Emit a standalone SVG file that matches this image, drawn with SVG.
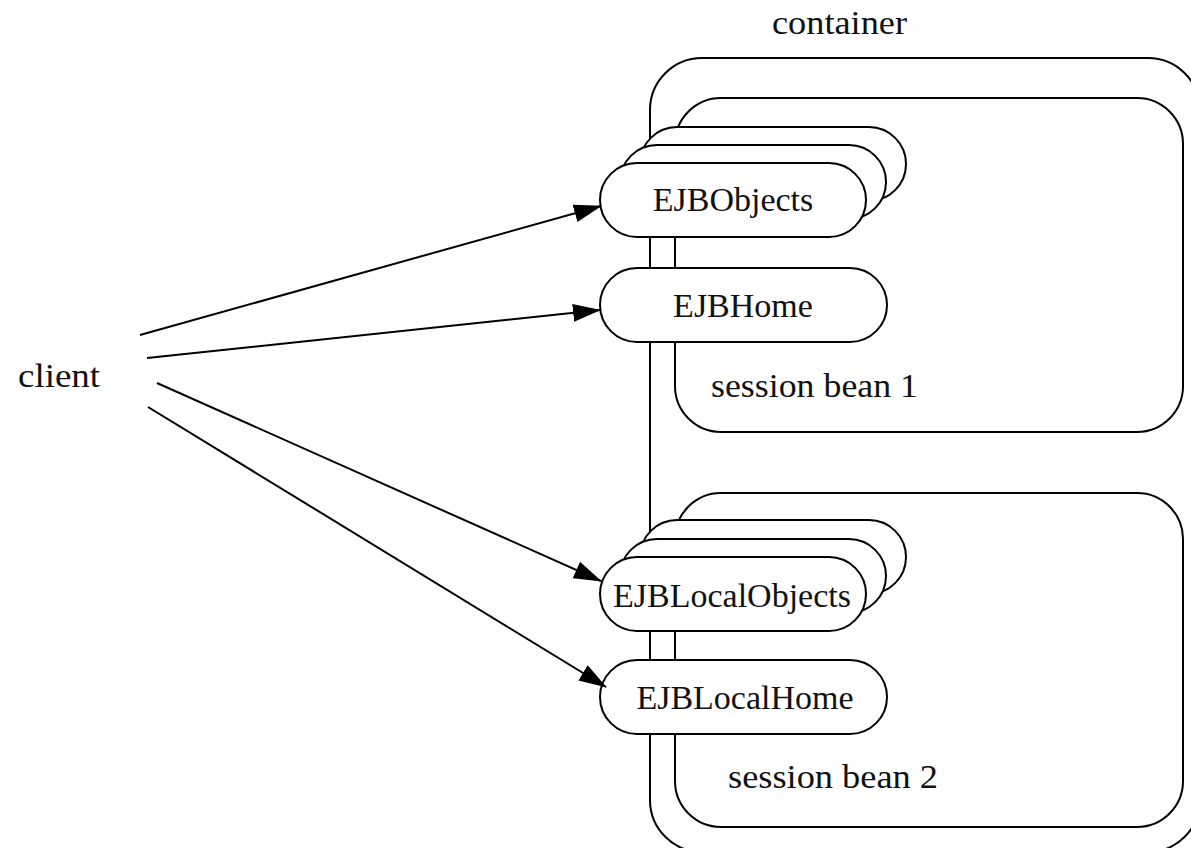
<svg xmlns="http://www.w3.org/2000/svg" width="1191" height="848" viewBox="0 0 1191 848">
<defs>
<marker id="arr" markerWidth="28" markerHeight="18" refX="27" refY="9" orient="auto" markerUnits="userSpaceOnUse">
<path d="M0,0 L28,9 L0,18 Z" fill="#000"/>
</marker>
</defs>
<style>
.box{fill:#fff;stroke:#000;stroke-width:2}
.t{font-family:"Liberation Serif","Times New Roman",serif;font-size:34px;fill:#111}
.c{text-anchor:middle}
.e{stroke:#000;stroke-width:2;fill:none}
</style>
<rect width="1191" height="848" fill="#fff"/>
<g id="container">
<rect class="box" x="650" y="58" width="550" height="794" rx="52" ry="52"/>
<text class="t" x="772" y="34" textLength="135" lengthAdjust="spacingAndGlyphs">container</text>
</g>
<g id="sessionbean1">
<rect class="box" x="675" y="98" width="508" height="334" rx="46" ry="46"/>
<text class="t" x="711" y="397" textLength="207" lengthAdjust="spacingAndGlyphs">session bean 1</text>
</g>
<g id="sessionbean2">
<rect class="box" x="675" y="493" width="508" height="334" rx="46" ry="46"/>
<text class="t" x="728" y="788" textLength="210" lengthAdjust="spacingAndGlyphs">session bean 2</text>
</g>
<g id="ejbobjects">
<rect class="box" x="640" y="127" width="266" height="74" rx="37" ry="37"/>
<rect class="box" x="620" y="145" width="266" height="74" rx="37" ry="37"/>
<rect class="box" x="600" y="163" width="266" height="74" rx="37" ry="37"/>
<text class="t c" x="733" y="211">EJBObjects</text>
</g>
<g id="ejbhome">
<rect class="box" x="600" y="268" width="287" height="74" rx="37" ry="37"/>
<text class="t c" x="743" y="317">EJBHome</text>
</g>
<g id="ejblocalobjects">
<rect class="box" x="640" y="520" width="266" height="74" rx="37" ry="37"/>
<rect class="box" x="620" y="539" width="266" height="74" rx="37" ry="37"/>
<rect class="box" x="600" y="557" width="266" height="74" rx="37" ry="37"/>
<text class="t c" x="732" y="607">EJBLocalObjects</text>
</g>
<g id="ejblocalhome">
<rect class="box" x="600" y="660" width="287" height="74" rx="37" ry="37"/>
<text class="t c" x="745" y="709">EJBLocalHome</text>
</g>
<g id="client">
<text class="t" x="18" y="387" textLength="82" lengthAdjust="spacingAndGlyphs">client</text>
</g>
<g id="connectors">
<line class="e" x1="140" y1="335" x2="601" y2="206" marker-end="url(#arr)"/>
<line class="e" x1="147" y1="358" x2="600" y2="310" marker-end="url(#arr)"/>
<line class="e" x1="157" y1="383" x2="601" y2="581" marker-end="url(#arr)"/>
<line class="e" x1="148" y1="407" x2="606" y2="687" marker-end="url(#arr)"/>
</g>
</svg>
